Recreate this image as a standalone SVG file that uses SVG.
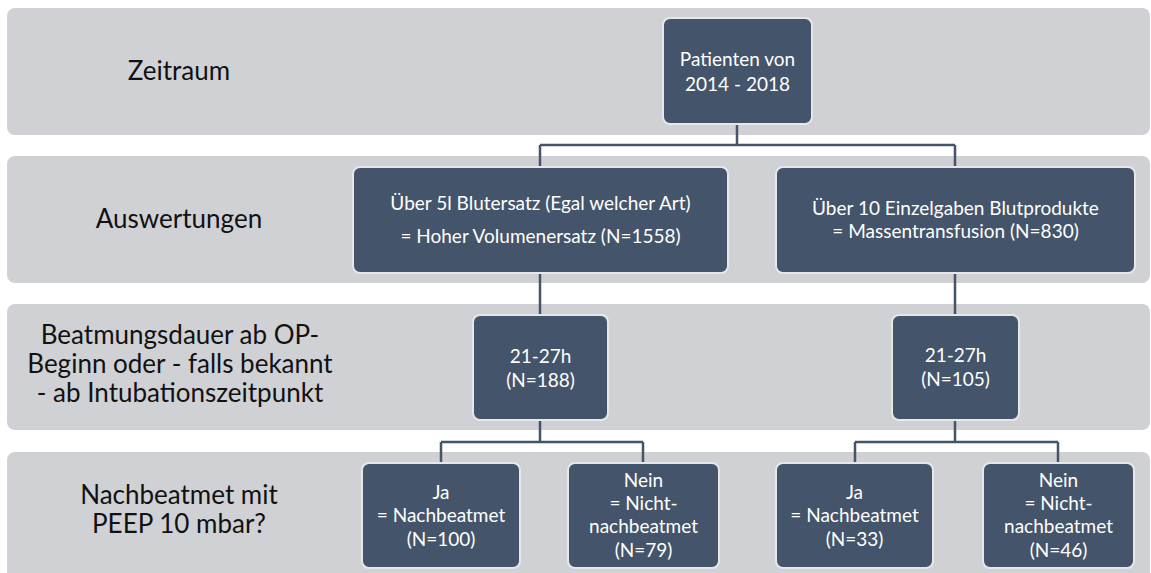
<svg xmlns="http://www.w3.org/2000/svg" width="1151" height="573" viewBox="0 0 1151 573">
<style>
.band{fill:#D0D1D5;}
.node{fill:#44546A;stroke:#E6E7E9;stroke-width:2;}
.lbl{font-family:Lato,"Open Sans",sans-serif;font-size:26px;fill:#111;text-anchor:middle;}
.nt{font-family:Lato,"Open Sans",sans-serif;font-size:19px;fill:#FFFFFF;text-anchor:middle;}
.con{fill:none;stroke:#44546A;stroke-width:2.5;}
</style>
<rect width="1151" height="573" fill="#FFFFFF"/>
<g id="bands">
<rect class="band" x="7" y="8" width="1143" height="127" rx="8"/>
<rect class="band" x="7" y="156" width="1143" height="127" rx="8"/>
<rect class="band" x="7" y="304" width="1143" height="126" rx="8"/>
<rect class="band" x="7" y="452" width="1143" height="130" rx="8"/>
</g>
<g id="row-labels">
<text class="lbl" x="179" y="80">Zeitraum</text>
<text class="lbl" x="179" y="228">Auswertungen</text>
<text class="lbl" x="180" y="344">Beatmungsdauer ab OP-</text>
<text class="lbl" x="180" y="373">Beginn oder - falls bekannt</text>
<text class="lbl" x="180" y="402">- ab Intubationszeitpunkt</text>
<text class="lbl" x="179" y="504">Nachbeatmet mit</text>
<text class="lbl" x="179" y="533">PEEP 10 mbar?</text>
</g>
<g id="connectors">
<path class="con" d="M737,124 V145 M540,145 H955 M540,145 V167 M955,145 V167"/>
<path class="con" d="M540,273 V315 M955,273 V315"/>
<path class="con" d="M540,420 V442 M441,442 H643 M441,442 V463 M643,442 V463"/>
<path class="con" d="M955,420 V442 M855,442 H1058 M855,442 V463 M1058,442 V463"/>
</g>
<g id="n-patienten">
<rect class="node" x="663" y="18" width="149" height="106" rx="7"/>
<text class="nt" x="737.5" y="66">Patienten von</text>
<text class="nt" x="737.5" y="91">2014 - 2018</text>
</g>
<g id="n-volumen">
<rect class="node" x="353" y="167" width="375" height="106" rx="7"/>
<text class="nt" x="540.5" y="210">Über 5l Blutersatz (Egal welcher Art)</text>
<text class="nt" x="540.5" y="243">= Hoher Volumenersatz (N=1558)</text>
</g>
<g id="n-massen">
<rect class="node" x="776" y="167" width="359" height="106" rx="7"/>
<text class="nt" x="955.5" y="215">Über 10 Einzelgaben Blutprodukte</text>
<text class="nt" x="955.5" y="238">= Massentransfusion (N=830)</text>
</g>
<g id="n-dauer1">
<rect class="node" x="473" y="315" width="135" height="105" rx="7"/>
<text class="nt" x="540.5" y="363">21-27h</text>
<text class="nt" x="540.5" y="387">(N=188)</text>
</g>
<g id="n-dauer2">
<rect class="node" x="892" y="315" width="127" height="105" rx="7"/>
<text class="nt" x="955.5" y="362">21-27h</text>
<text class="nt" x="955.5" y="386">(N=105)</text>
</g>
<g id="n-ja1">
<rect class="node" x="362" y="463" width="158" height="105" rx="7"/>
<text class="nt" x="441" y="499">Ja</text>
<text class="nt" x="441" y="522">= Nachbeatmet</text>
<text class="nt" x="441" y="546">(N=100)</text>
</g>
<g id="n-nein1">
<rect class="node" x="568" y="463" width="151" height="105" rx="7"/>
<text class="nt" x="643.5" y="487">Nein</text>
<text class="nt" x="643.5" y="510">= Nicht-</text>
<text class="nt" x="643.5" y="533">nachbeatmet</text>
<text class="nt" x="643.5" y="557">(N=79)</text>
</g>
<g id="n-ja2">
<rect class="node" x="776" y="463" width="157" height="105" rx="7"/>
<text class="nt" x="854.5" y="499">Ja</text>
<text class="nt" x="854.5" y="522">= Nachbeatmet</text>
<text class="nt" x="854.5" y="546">(N=33)</text>
</g>
<g id="n-nein2">
<rect class="node" x="983" y="463" width="151" height="105" rx="7"/>
<text class="nt" x="1058.5" y="487">Nein</text>
<text class="nt" x="1058.5" y="510">= Nicht-</text>
<text class="nt" x="1058.5" y="533">nachbeatmet</text>
<text class="nt" x="1058.5" y="557">(N=46)</text>
</g>
</svg>
